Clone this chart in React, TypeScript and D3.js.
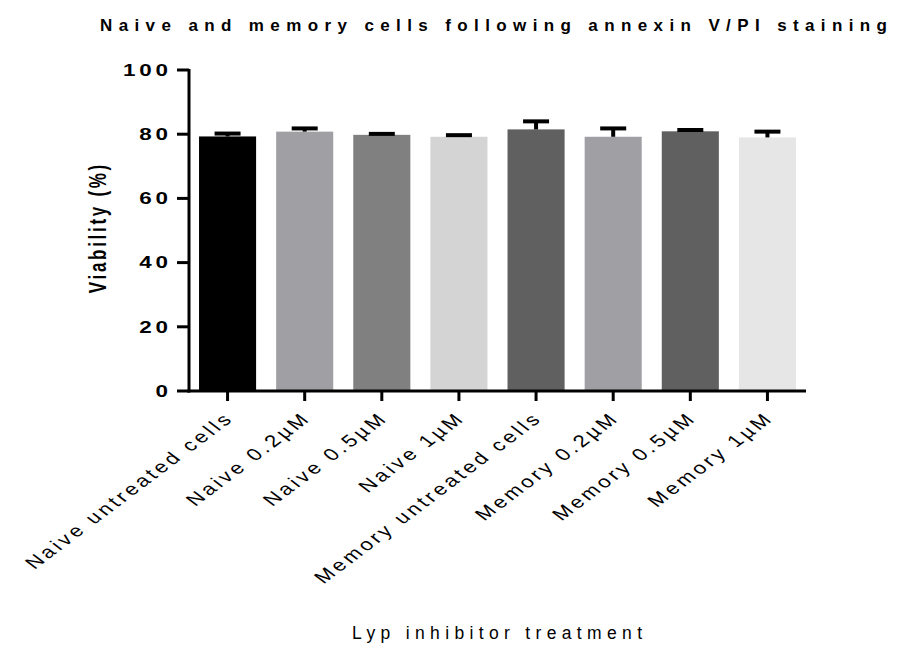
import React from "react";
import * as d3 from "d3";

const categories = [
  "Naive untreated cells",
  "Naive 0.2\u00b5M",
  "Naive 0.5\u00b5M",
  "Naive 1\u00b5M",
  "Memory untreated cells",
  "Memory 0.2\u00b5M",
  "Memory 0.5\u00b5M",
  "Memory 1\u00b5M",
];
const means = [79.3, 80.8, 79.8, 79.2, 81.5, 79.2, 80.9, 79.0];
const errors = [0.9, 1.0, 0.3, 0.5, 2.5, 2.6, 0.4, 1.8];
const barColors = ["#000000", "#a0a0a4", "#808080", "#d4d4d4", "#606060", "#a0a0a4", "#606060", "#e6e6e6"];
const yTicks = [0, 20, 40, 60, 80, 100];

export default function App() {
  const W = 897, H = 653;
  const x0 = 189, x1 = 806, yTop = 70, yBot = 391;
  const x = d3.scaleBand<string>().domain(categories).range([x0, x1]).paddingInner(0.26).paddingOuter(0.13);
  const y = d3.scaleLinear().domain([0, 100]).range([yBot, yTop]);
  const font = "Arial, 'Liberation Sans', sans-serif";
  const capHalf = 13;
  const xls = 2.6;
  const tls = 2.7;
  return (
    <svg width={W} height={H} style={{ position: "absolute", left: 0, top: 0, background: "#fff" }}>
      <text x={100} y={31} fontFamily={font} fontWeight="bold" fontSize={17} textLength={787} lengthAdjust="spacing">
        Naive and memory cells following annexin V/PI staining
      </text>
      {categories.map((c, i) => {
        const bx = x(c)!;
        const cx = bx + x.bandwidth() / 2;
        const top = y(means[i]);
        const et = y(means[i] + errors[i]);
        return (
          <g key={c}>
            <rect x={bx} y={top} width={x.bandwidth()} height={yBot - top} fill={barColors[i]} />
            <line x1={cx} x2={cx} y1={top} y2={et} stroke="#000" strokeWidth={4} />
            <line x1={cx - capHalf} x2={cx + capHalf} y1={et} y2={et} stroke="#000" strokeWidth={4} />
          </g>
        );
      })}
      {/* y axis */}
      <line x1={x0} x2={x0} y1={yTop - 1} y2={yBot + 1.5} stroke="#000" strokeWidth={3} />
      {yTicks.map((t) => (
        <g key={t}>
          <line x1={x0 - 12} x2={x0} y1={y(t)} y2={y(t)} stroke="#000" strokeWidth={3} />
          <text
            transform={`translate(168,${y(t)}) scale(1.4,1)`}
            x={tls}
            dy="0.36em"
            textAnchor="end"
            fontFamily={font}
            fontWeight="bold"
            fontSize={16}
            letterSpacing={tls}
          >
            {t}
          </text>
        </g>
      ))}
      {/* x axis */}
      <line x1={x0 - 1.5} x2={x1} y1={yBot} y2={yBot} stroke="#000" strokeWidth={3} />
      {categories.map((c) => {
        const cx = x(c)! + x.bandwidth() / 2;
        return (
          <g key={"t" + c}>
            <line x1={cx} x2={cx} y1={yBot} y2={yBot + 10} stroke="#000" strokeWidth={3} />
            <text
              transform={`translate(${cx + 5},${yBot + 30}) scale(1.33,1) rotate(-45)`}
              x={xls}
              textAnchor="end"
              fontFamily={font}
              fontSize={17}
              letterSpacing={xls}
            >
              {c}
            </text>
          </g>
        );
      })}
      <text
        transform={`translate(106,229) scale(1.4,1) rotate(-90)`}
        x={1.35}
        textAnchor="middle"
        fontFamily={font}
        fontWeight="bold"
        fontSize={17}
        letterSpacing={2.7}
      >
        Viability (%)
      </text>
      <text x={352} y={639} fontFamily={font} fontSize={17.5} textLength={290} lengthAdjust="spacing">
        Lyp inhibitor treatment
      </text>
    </svg>
  );
}
